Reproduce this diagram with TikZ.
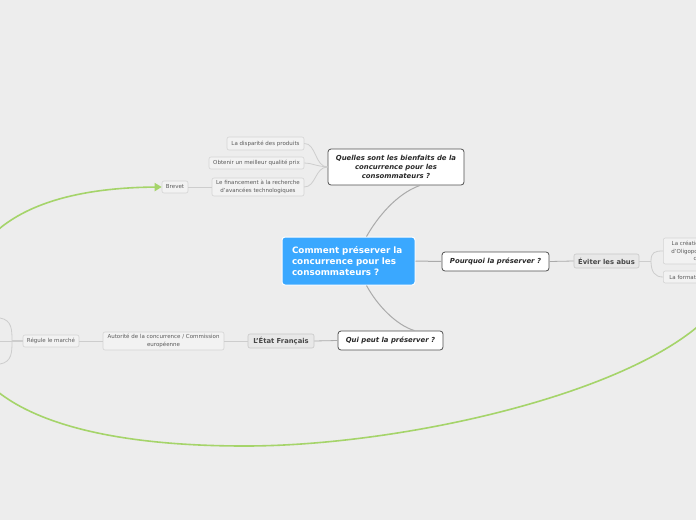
\documentclass[tikz,border=0pt]{standalone}
\usepackage{fontspec}
\setmainfont{DejaVu Sans}
\usetikzlibrary{arrows.meta}
\definecolor{bg}{RGB}{237,237,237}
\definecolor{cblue}{RGB}{58,168,255}
\definecolor{mainborder}{RGB}{80,80,80}
\definecolor{maintext}{RGB}{40,40,40}
\definecolor{subfill}{RGB}{232,232,232}
\definecolor{subborder}{RGB}{200,200,200}
\definecolor{leafborder}{RGB}{212,212,212}
\definecolor{leaftext}{RGB}{90,90,90}
\definecolor{linkgray}{RGB}{170,170,170}
\definecolor{leafline}{RGB}{205,205,205}
\definecolor{cgreen}{RGB}{165,212,106}
\tikzset{
  central/.style={fill=cblue, draw=white, line width=1pt, rounded corners=3pt, text=white,
    font=\fontsize{8.8}{10.8}\selectfont\bfseries, align=left, inner sep=0pt},
  mainbox/.style={fill=white, draw=mainborder, line width=0.8pt, rounded corners=3pt, text=maintext,
    font=\fontsize{6.9}{9}\selectfont\bfseries\itshape, align=center, inner sep=0pt},
  subbox/.style={fill=subfill, draw=subborder, line width=0.6pt, rounded corners=2pt, text=maintext!85,
    font=\fontsize{6.8}{8}\selectfont\bfseries, align=center, inner sep=0pt},
  leafbox/.style={fill=bg!70!white, draw=leafborder, line width=0.6pt, rounded corners=2pt, text=leaftext,
    font=\fontsize{5.5}{7.6}\selectfont, align=center, inner sep=0pt},
  link/.style={draw=linkgray, line width=1pt},
  leaflink/.style={draw=leafline, line width=0.8pt},
  greenlink/.style={draw=cgreen, line width=1.6pt, -{Triangle[length=7pt,width=8pt]}}
}
\begin{document}
\begin{tikzpicture}[x=1pt,y=-1pt]
\useasboundingbox (0,0) rectangle (696,520);
\fill[bg] (0,0) rectangle (696,520);
\clip (0,0) rectangle (696,520);

% nodes
\node[central, minimum width=133pt, minimum height=48pt, text width=113pt] (c) at (348.5,261)
  {Comment préserver la\\concurrence pour les\\consommateurs ?};
\node[mainbox, minimum width=136pt, minimum height=36pt] (q) at (396,167)
  {Quelles sont les bienfaits de la\\concurrence pour les\\consommateurs ?};
\node[mainbox, minimum width=107pt, minimum height=19pt] (p) at (495.5,261.5) {Pourquoi la préserver ?};
\node[mainbox, minimum width=105pt, minimum height=19pt] (qui) at (390.5,340.5) {Qui peut la préserver ?};
\node[subbox, minimum width=65pt, minimum height=14pt] (ev) at (606.5,261) {Éviter les abus};
\node[subbox, minimum width=66pt, minimum height=14pt] (et) at (281,341) {L'État Français};
\node[leafbox, minimum width=121pt, minimum height=18pt] (au) at (163.5,341)
  {Autorité de la concurrence / Commission\\européenne};
\node[leafbox, minimum width=56pt, minimum height=12pt] (re) at (51,341) {Régule le marché};
\node[leafbox, minimum width=77pt, minimum height=13pt] (d1) at (265.5,143.5) {La disparité des produits};
\node[leafbox, minimum width=95pt, minimum height=12pt] (d2) at (256.5,163) {Obtenir un meilleur qualité prix};
\node[leafbox, minimum width=92pt, minimum height=18pt] (d3) at (258,187)
  {Le financement à la recherche\\d'avancées technologiques};
\node[leafbox, minimum width=26pt, minimum height=12pt] (br) at (175,187) {Brevet};
\node[leafbox, minimum width=88pt, minimum height=26pt, anchor=west] (cr) at (663,251)
  {La création de monopoles\\d'Oligopoles ou de cartels\\contraires};
\node[leafbox, minimum width=76pt, minimum height=12pt, anchor=west] (fo) at (663,277) {La formation de cartels};

% main links
\draw[link] ([xshift=18pt]c.north) .. controls (377,218) and (396,194) .. ([xshift=24pt]q.south);
\draw[link] ([xshift=18pt]c.south) .. controls (377,305) and (396,325) .. ([xshift=24pt]qui.north);
\draw[link] (c.east) -- (p.west);
\draw[link, line width=0.8pt] (p.east) -- (ev.west);
\draw[link, line width=0.8pt] (qui.west) -- (et.east);
\draw[leaflink] (et.west) -- (au.east);
\draw[leaflink] (au.west) -- (re.east);
\draw[leaflink, line width=1.6pt] (re.west) -- ++(-11,0) coordinate (rl);
\draw[leaflink] (rl) -- (0,341);
\draw[leaflink] (0,318) .. controls (12,320) and (12,330) .. (12,341) .. controls (12,352) and (12,362) .. (0,364);

% quelles children
\draw[leaflink] (q.west) .. controls (315,167) and (316,143) .. (d1.east);
\draw[leaflink] (q.west) .. controls (315,166) and (312,163) .. (d2.east);
\draw[leaflink] (q.west) .. controls (315,167) and (316,187) .. (d3.east);
\draw[leaflink] (d3.west) -- (br.east);

% eviter children
\draw[leaflink] (ev.east) -- (651,261) coordinate (eb);
\draw[leaflink] (eb) .. controls (651,252) and (655,251) .. (cr.west);
\draw[leaflink] (eb) .. controls (651,272) and (655,277) .. (fo.west);

% green relation
\draw[greenlink] ([xshift=30pt]fo.south) .. controls (695,380) and (420,446) .. (245,446)
  .. controls (60,446) and (-40,400) .. (-40,318)
  .. controls (-40,225) and (40,188) .. (br.west);
\end{tikzpicture}
\end{document}
